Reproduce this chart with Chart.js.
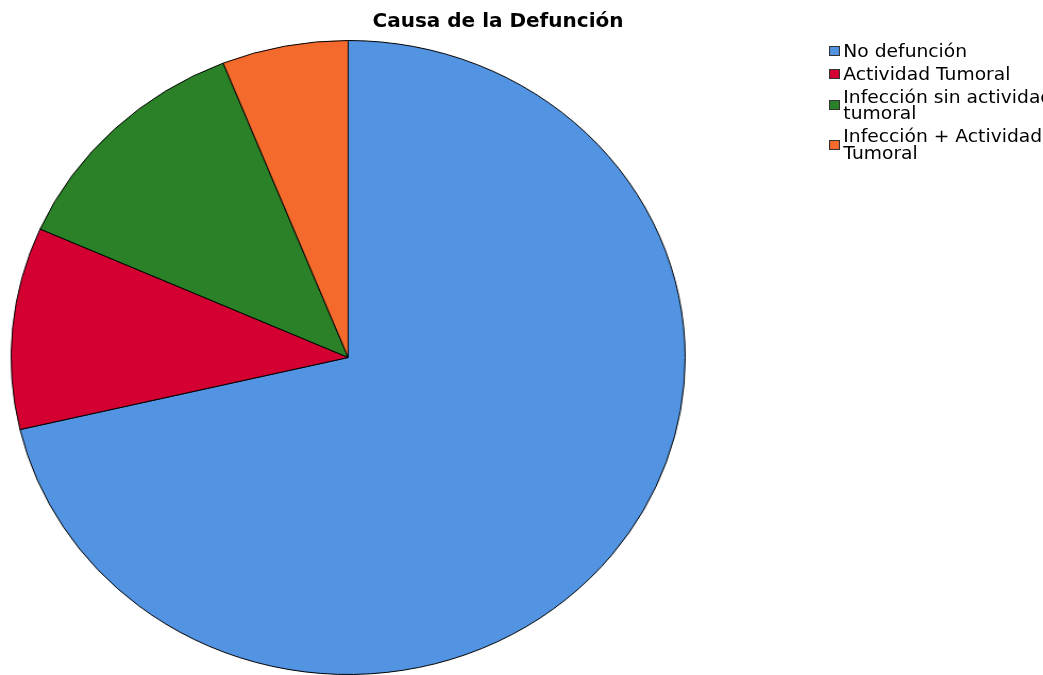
<!DOCTYPE html>
<html>
<head>
<meta charset="utf-8">
<script src="https://cdn.jsdelivr.net/npm/chart.js@4/dist/chart.umd.min.js"></script>
<style>
  html, body { margin: 0; padding: 0; background: #fff; }
  body { width: 1043px; height: 675px; overflow: hidden; position: relative; }
  #wrap { position: absolute; left: 0; top: 0; width: 981px; height: 675px;
          transform: scaleX(1.0631); transform-origin: 0 0; }
  #title { position: absolute; top: 8px; left: 498px; transform: translateX(-50%);
           font-family: "DejaVu Sans", sans-serif; font-weight: bold; font-size: 20px;
           color: #000; white-space: nowrap; }
  #legend { position: absolute; left: 829px; top: 42.5px; font-family: "DejaVu Sans", sans-serif;
            font-size: 17px; color: #000; white-space: nowrap;
            transform: scaleX(1.1); transform-origin: 0 0; }
  .item { display: flex; align-items: center; line-height: 16.5px; margin-bottom: 6.5px; }
  .sw { width: 8px; height: 8px; border: 1px solid #333; margin-right: 3px; flex: none; }
</style>
</head>
<body>
<div id="wrap"><canvas id="c"></canvas></div>
<div id="title">Causa de la Defunción</div>
<div id="legend"></div>
<script>
const categories = ["No defunción", "Actividad Tumoral", "Infección sin actividad tumoral", "Infección + Actividad Tumoral"];
const legendLines = [["No defunción"], ["Actividad Tumoral"], ["Infección sin actividad", "tumoral"], ["Infección + Actividad", "Tumoral"]];
const values = [71.35, 10.29, 12.31, 6.05];
const colors = ["#5294E2", "#D50032", "#2A8128", "#F46A2C"];

const leg = document.getElementById('legend');
legendLines.forEach((lines, i) => {
  const it = document.createElement('div');
  it.className = 'item';
  const sw = document.createElement('div');
  sw.className = 'sw';
  sw.style.background = colors[i];
  const tx = document.createElement('div');
  tx.innerHTML = lines.join('<br>');
  it.appendChild(sw); it.appendChild(tx);
  leg.appendChild(it);
});

new Chart(document.getElementById('c'), {
  type: 'pie',
  data: {
    labels: categories,
    datasets: [{
      data: values,
      backgroundColor: colors,
      borderColor: '#000',
      borderWidth: 1
    }]
  },
  options: {
    responsive: true,
    maintainAspectRatio: false,
    animation: false,
    layout: { padding: { left: 10, top: 40, right: 336, bottom: 0 } },
    plugins: {
      legend: { display: false },
      title: { display: false },
      tooltip: { enabled: false }
    }
  }
});
</script>
</body>
</html>
